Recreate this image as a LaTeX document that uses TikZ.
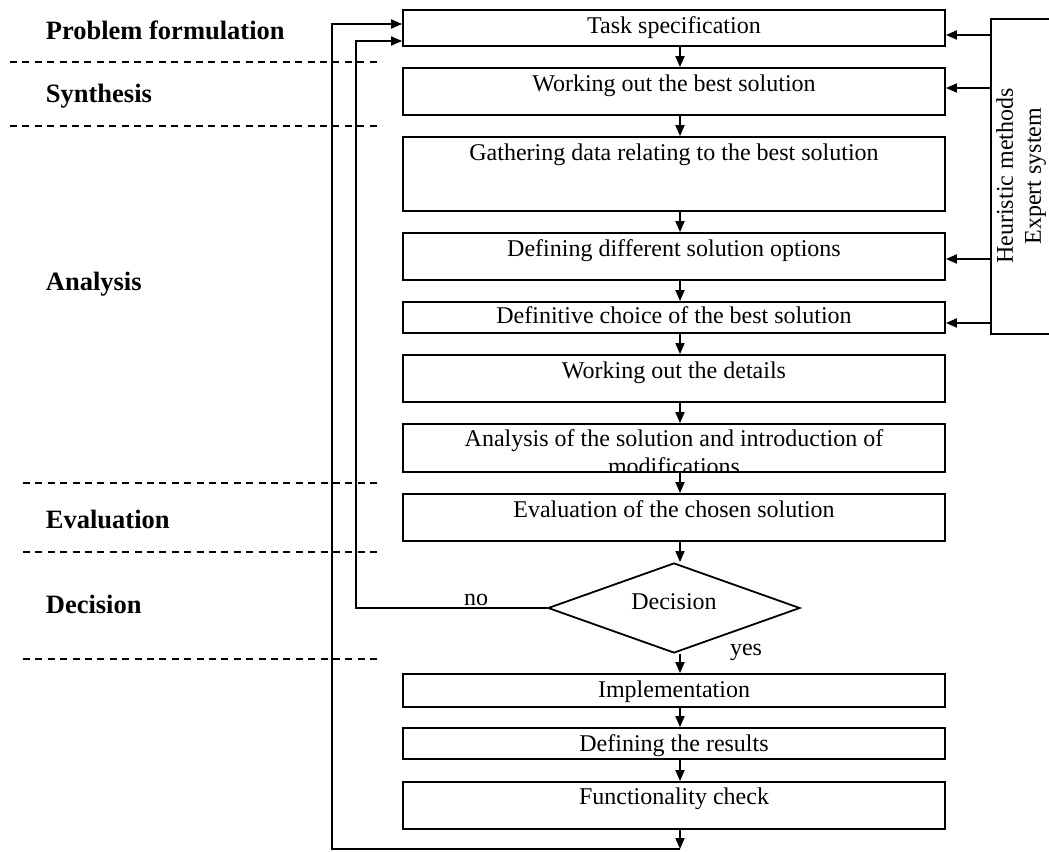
\documentclass[tikz,border=0pt]{standalone}
\usepackage{fontspec}
\setmainfont{Liberation Serif}
\usetikzlibrary{arrows.meta,shapes.geometric}

\begin{document}
\begin{tikzpicture}[x=1pt,y=-1pt,
  line width=1.8pt,
  stage/.style={draw, rectangle, minimum width=542pt, inner sep=0pt},
  stagetext/.style={anchor=base, font=\fontsize{24}{28}\selectfont, inner sep=0pt},
  phase/.style={anchor=base west, font=\fontsize{26.5}{30}\selectfont\bfseries, inner sep=0pt},
  sep/.style={dash pattern=on 7pt off 5.4pt, line width=1.6pt},
  arr/.style={-{Triangle[length=11pt,width=9pt]}},
  ]
\useasboundingbox (0,0) rectangle (1049,851);

% phase separators and phase names
\draw[sep] (10,62) -- (382,62);
\draw[sep] (10,126) -- (382,126);
\draw[sep] (23,483) -- (382,483);
\draw[sep] (23,552) -- (382,552);
\draw[sep] (23,659) -- (382,659);

\node[phase] (pf)  at (45,40)  {Problem formulation};
\node[phase] (syn) at (45,102) {Synthesis};
\node[phase] (ana) at (45,290) {Analysis};
\node[phase] (eva) at (45,528) {Evaluation};
\node[phase] (dcs) at (45,613) {Decision};

% process steps
\node[stage, minimum height=36pt] (spec)    at (674,28)    {};
\node[stage, minimum height=47pt] (best)    at (674,91.5)  {};
\node[stage, minimum height=74pt] (gather)  at (674,174)   {};
\node[stage, minimum height=47pt] (opts)    at (674,256.5) {};
\node[stage, minimum height=31pt] (choice)  at (674,317.5) {};
\node[stage, minimum height=47pt] (details) at (674,378.5) {};
\node[stage, minimum height=48pt] (anal)    at (674,448)   {};
\node[stage, minimum height=47pt] (evalb)   at (674,517.5) {};
\node[diamond, draw, minimum width=252pt, minimum height=90pt, inner sep=0pt] (dec) at (674,608) {};
\node[stage, minimum height=33pt] (impl)    at (674,690.5) {};
\node[stage, minimum height=31pt] (res)     at (674,743.5) {};
\node[stage, minimum height=47pt] (func)    at (674,805.5) {};

\node[stagetext] (t1) at ([yshift=-24pt]spec.north)    {Task specification};
\node[stagetext] (t2) at ([yshift=-24pt]best.north)    {Working out the best solution};
\node[stagetext] (t3) at ([yshift=-24pt]gather.north)  {Gathering data relating to the best solution};
\node[stagetext] (t4) at ([yshift=-24pt]opts.north)    {Defining different solution options};
\node[stagetext] (t5) at ([yshift=-22pt]choice.north)  {Definitive choice of the best solution};
\node[stagetext] (t6) at ([yshift=-24pt]details.north) {Working out the details};
% the second line runs past the lower edge of its box and is cut off there
\begin{scope}
  \clip (anal.south west) rectangle (anal.north east);
  \node[stagetext, align=center] (t7) at ([yshift=-51pt]anal.north)
    {Analysis of the solution and introduction of\\modifications};
\end{scope}
\node[stagetext] (t8)  at ([yshift=-24pt]evalb.north) {Evaluation of the chosen solution};
\node[stagetext] (t9)  at (674,609)                   {Decision};
\node[stagetext] (t10) at ([yshift=-24pt]impl.north)  {Implementation};
\node[stagetext] (t11) at ([yshift=-24pt]res.north)   {Defining the results};
\node[stagetext] (t12) at ([yshift=-23pt]func.north)  {Functionality check};

% flow between the steps
\foreach \a/\b in {spec/best, best/gather, gather/opts, opts/choice,
                   choice/details, details/anal, anal/evalb, dec/impl,
                   impl/res, res/func}
  \draw[arr] ([xshift=6pt]\a.south) -- ([xshift=6pt]\b.north);
\draw[arr] ([xshift=6pt]evalb.south) -- ([xshift=6pt]evalb.south |- dec.north);

\node[stagetext] (nolbl)  at (476,605) {no};
\node[stagetext] (yeslbl) at (746,655) {yes};

% feedback loops
\coordinate (inner) at (356,41);
\coordinate (outer) at (332,24);
\coordinate (loopb) at (680,849);
\draw[arr] (dec.west) -| (inner) -- (inner -| spec.west);
\draw[arr] ([xshift=6pt]func.south) -- (loopb);
\draw[arr] (loopb) -| (outer) -- (outer -| spec.west);

% support block
\node[minimum width=57pt, minimum height=313pt, inner sep=0pt] (expert) at (1020.5,176.5) {};
\draw (expert.north east) -- (expert.north west) -- (expert.south west) -- (expert.south east);
\node[rotate=90, align=center, font=\fontsize{24}{28}\selectfont, inner sep=0pt] (experttxt)
  at (1021,176) {Heuristic methods\\Expert system};

\draw[arr] (expert.west |- 0,35)  -- (spec.east |- 0,35);
\draw[arr] (expert.west |- 0,88)  -- (best.east |- 0,88);
\draw[arr] (expert.west |- 0,259) -- (opts.east |- 0,259);
\draw[arr] (expert.west |- 0,323) -- (choice.east |- 0,323);
\end{tikzpicture}
\end{document}
